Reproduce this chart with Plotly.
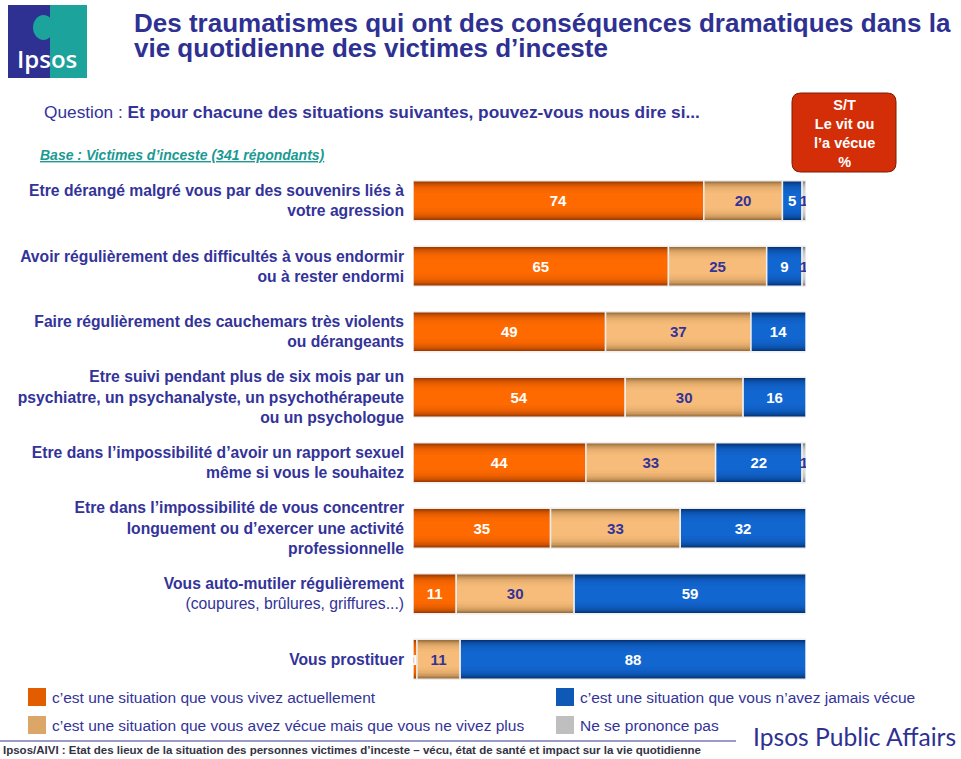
import plotly.graph_objects as go

# ---------------- data ----------------
categories = [
    "Etre dérangé malgré vous par des souvenirs liés à<br>votre agression",
    "Avoir régulièrement des difficultés à vous endormir<br>ou à rester endormi",
    "Faire régulièrement des cauchemars très violents<br>ou dérangeants",
    "Etre suivi pendant plus de six mois par un<br>psychiatre, un psychanalyste, un psychothérapeute<br>ou un psychologue",
    "Etre dans l’impossibilité d’avoir un rapport sexuel<br>même si vous le souhaitez",
    "Etre dans l’impossibilité de vous concentrer<br>longuement ou d’exercer une activité<br>professionnelle",
    "Vous auto-mutiler régulièrement<br><span style='font-weight:normal'>(coupures, brûlures, griffures...)</span>",
    "Vous prostituer",
]
vit_actuellement = [74, 65, 49, 54, 44, 35, 11, 1]
vecue_plus = [20, 25, 37, 30, 33, 33, 30, 11]
jamais_vecue = [5, 9, 14, 16, 22, 32, 59, 88]
ne_se_prononce_pas = [1, 1, 0, 0, 1, 0, 0, 0]
st_le_vit_ou_vecue = [94, 90, 86, 84, 77, 68, 41, 12]

series_names = [
    "c’est une situation que vous vivez actuellement",
    "c’est une situation que vous avez vécue mais que vous ne vivez plus",
    "c’est une situation que vous n’avez jamais vécue",
    "Ne se prononce pas",
]

# ---------------- styling ----------------
FONT = "Liberation Sans"
NAVY = "#2E3192"
TEXTBLUE = "#333399"
TEAL = "#1A9A92"
W, H = 961, 759
L, R, T, B = 413, 806, 168, 692


def px(x):
    return (x - L) / (R - L)


def py(y):
    return (B - y) / (B - T)


def mix(c1, c2, t):
    a = [int(c1[i:i + 2], 16) for i in (1, 3, 5)]
    b = [int(c2[i:i + 2], 16) for i in (1, 3, 5)]
    return "#" + "".join(f"{round(a[k] + (b[k] - a[k]) * t):02x}" for k in range(3))


series_values = [vit_actuellement, vecue_plus, jamais_vecue, ne_se_prononce_pas]
edge_colors = ["#8C3200", "#8A6232", "#022C6A", "#6E6E6E"]
center_colors = ["#FF6A00", "#F8BC7A", "#1266D0", "#DADADA"]
text_colors = ["white", TEXTBLUE, "white", TEXTBLUE]
BAR_W = 0.61
# gradient approximation: nested bands (width, blend edge->centre)
bands = [(0.61, 0.0), (0.585, 0.18), (0.56, 0.34), (0.53, 0.5), (0.50, 0.63),
         (0.46, 0.74), (0.42, 0.83), (0.37, 0.9), (0.31, 0.95), (0.24, 1.0)]

ypos = list(range(len(categories)))
fig = go.Figure()

cum = [0] * len(categories)
for s, vals in enumerate(series_values):
    base = list(cum)
    xs = [v if v > 0 else None for v in vals]
    for w, t in bands:
        fig.add_trace(go.Bar(
            x=xs, y=ypos, base=base, width=w, orientation="h",
            marker=dict(color=mix(edge_colors[s], center_colors[s], t), line=dict(width=0)),
            hoverinfo="skip", showlegend=False,
        ))
    fig.add_trace(go.Bar(
        x=xs, y=ypos, base=base, width=BAR_W, orientation="h", name=series_names[s],
        marker=dict(color="rgba(0,0,0,0)", line=dict(color="#EEEEEE", width=1.5)),
        text=[str(v) if v > 0 else "" for v in vals],
        textposition="inside", insidetextanchor="middle", constraintext="none",
        textfont=dict(family=FONT, size=15, color=text_colors[s], weight="bold"),
        showlegend=False,
    ))
    cum = [c + v for c, v in zip(cum, vals)]

# S/T column
fig.add_trace(go.Scatter(
    x=[109.4] * len(st_le_vit_ou_vecue), y=ypos, mode="text",
    text=[str(v) for v in st_le_vit_ou_vecue],
    textfont=dict(family=FONT, size=21, color="#FF6A10", weight="bold"),
    cliponaxis=False, showlegend=False, hoverinfo="skip",
))

shapes = []
annotations = []


def ann(text, x, y, size, color, xanchor="left", yanchor="middle", **font):
    annotations.append(dict(
        text=text, x=px(x), y=py(y), xref="paper", yref="paper",
        xanchor=xanchor, yanchor=yanchor, showarrow=False, align=xanchor if xanchor != "center" else "center",
        font=dict(family=font.pop("family", FONT), size=size, color=color, **font),
    ))


def rect(x0, y0, x1, y1, color, **kw):
    shapes.append(dict(type="rect", xref="paper", yref="paper",
                       x0=px(x0), x1=px(x1), y0=py(y1), y1=py(y0),
                       fillcolor=color, line=dict(width=0), layer="above", **kw))


# Logo
rect(8, 5, 50, 78, NAVY)
rect(50, 5, 87, 78, "#1BA39C")
shapes.append(dict(type="circle", xref="paper", yref="paper",
                   x0=px(33), x1=px(54), y0=py(40), y1=py(15),
                   fillcolor="#1BA39C", line=dict(width=0), layer="above"))
ann("Ipsos", 47, 58, 24, "white", xanchor="center", family="Open Sans", weight=600)

# Title
ann("Des traumatismes qui ont des conséquences dramatiques dans la", 132, 23, 26, NAVY, weight="bold")
ann("vie quotidienne des victimes d’inceste", 132, 48, 26, NAVY, weight="bold")

# Question / base
ann("Question : <b>Et pour chacune des situations suivantes, pouvez-vous nous dire si...</b>",
    42, 112, 17.3, TEXTBLUE)
ann("Base : Victimes d’inceste (341 répondants)", 38, 155, 14, TEAL,
    weight="bold", style="italic", lineposition="under")

# S/T header box (rounded)
x0, x1, yt, yb = px(792), px(896), py(93), py(172)
rx, ry = 9 / (R - L), 9 / (B - T)
path = (f"M {x0+rx},{yt} L {x1-rx},{yt} Q {x1},{yt} {x1},{yt-ry} L {x1},{yb+ry} "
        f"Q {x1},{yb} {x1-rx},{yb} L {x0+rx},{yb} Q {x0},{yb} {x0},{yb+ry} "
        f"L {x0},{yt-ry} Q {x0},{yt} {x0+rx},{yt} Z")
shapes.append(dict(type="path", path=path, xref="paper", yref="paper",
                   fillcolor="#D32E08", line=dict(color="#7A1C00", width=1), layer="above"))
ann("S/T<br>Le vit ou<br>l’a vécue<br>%", 844, 134, 14.5, "white", xanchor="center", weight="bold")

# Legend (custom 2x2)
legend_pos = [(28, 697), (28, 725), (556, 697), (556, 725)]
for s, (lx, ly) in enumerate(legend_pos):
    rect(lx, ly - 9, lx + 18, ly + 9, mix(edge_colors[s], center_colors[s], 0.75))
    ann(series_names[s], lx + 22, ly, 15.5, TEXTBLUE)

# Footer
shapes.append(dict(type="line", xref="paper", yref="paper", x0=px(0), x1=px(736),
                   y0=py(741), y1=py(741), line=dict(color="#9A9AC8", width=2), layer="above"))
ann("Ipsos/AIVI : Etat des lieux de la situation des personnes victimes d’inceste – vécu, état de santé et impact sur la vie quotidienne",
    1, 750, 11.5, "#333344", weight="bold")
ann("Ipsos Public Affairs", 751, 736, 24.6, NAVY, family="Lato")

fig.update_layout(
    width=W, height=H, autosize=False,
    margin=dict(l=L, r=W - R, t=T, b=H - B, pad=0),
    barmode="overlay",
    plot_bgcolor="white", paper_bgcolor="white",
    showlegend=False,
    xaxis=dict(range=[0, 100], visible=False, fixedrange=True),
    yaxis=dict(range=[len(categories) - 0.5, -0.5], tickmode="array", tickvals=ypos,
               ticktext=categories, showgrid=False, zeroline=False, showline=False,
               ticks="", ticklabelstandoff=8,
               tickfont=dict(family=FONT, size=15.7, color=TEXTBLUE, weight="bold")),
    shapes=shapes,
    annotations=annotations,
)

fig.write_html("out.html", config={"displayModeBar": False},
               post_script="document.body.style.margin='0';document.body.style.overflow='hidden';")
